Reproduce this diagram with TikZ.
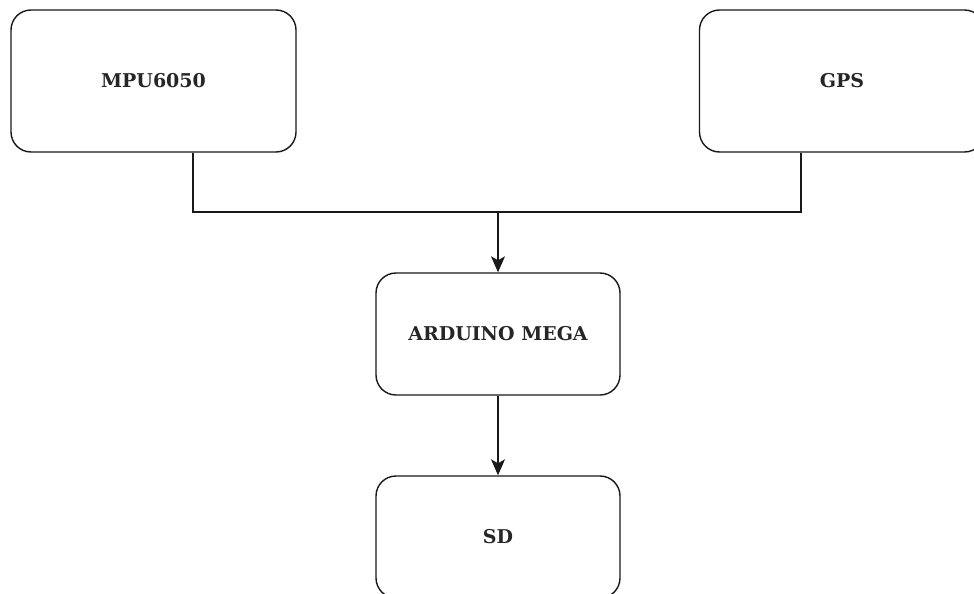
\documentclass[tikz,border=0pt]{standalone}
\usepackage{fontspec}
\setmainfont{DejaVu Serif}
\usetikzlibrary{arrows.meta}
\tikzset{
	blockbox/.style={draw=black!90, line width=1.4pt, rounded corners=20pt, inner sep=0pt,
		font=\fontsize{19}{22}\selectfont\bfseries, text=black!85},
	feedline/.style={draw=black!90, line width=1.4pt},
	feedarrow/.style={feedline, -{Stealth[length=16pt, width=14pt, inset=4pt]}}
}
\begin{document}
\begin{tikzpicture}[x=1pt, y=-1pt]
		%%%%% START %%%%%
		
		\useasboundingbox (0, 0) rectangle (974, 594);
		
		\node[blockbox, minimum width=285pt, minimum height=142pt] (mpu) at (153.5, 81) {MPU6050};
		\node[blockbox, minimum width=285pt, minimum height=142pt] (gps) at (842, 81) {GPS};
		
		\node[blockbox, minimum width=244pt, minimum height=122pt] (mega) at (498, 334) {ARDUINO MEGA};
		\node[blockbox, minimum width=244pt, minimum height=122pt] (sd) at (498, 537) {SD};
		
		\coordinate (join) at (498, 212);
		\draw[feedline] ([xshift=39.5pt]mpu.south) |- (join) -| ([xshift=-41pt]gps.south);
		
		\draw[feedarrow] (join) -- (mega.north);
		\draw[feedarrow] (mega.south) -- (sd.north);
		
		%%%%% END %%%%%
\end{tikzpicture}
\end{document}
